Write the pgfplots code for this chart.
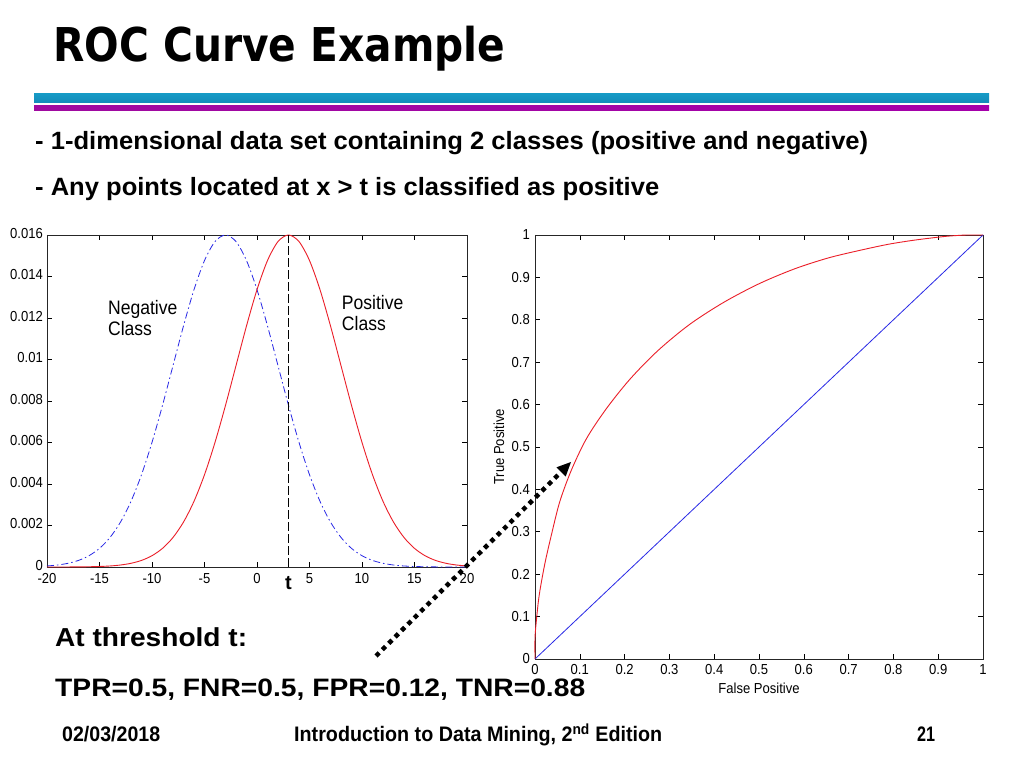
\documentclass[border=0pt]{standalone}
\usepackage{fontspec}
\setmainfont{Liberation Sans}
\newfontfamily\mfont[FakeStretch=0.9]{Liberation Sans}
\newfontfamily\titlefont{DejaVu Sans}
\usepackage{graphicx}
\usepackage{pgfplots}
\usepackage{pgfplotstable}
\pgfplotsset{compat=1.18}

\definecolor{mred}{RGB}{235,30,40}
\definecolor{mblue}{RGB}{40,40,230}
\newcommand\fit[2]{\resizebox{#1}{\height}{#2}}
\newcommand\tickfont{\mfont\fontsize{14.5}{16}\selectfont}

% class densities
\pgfplotstableread{
x   pos      neg
-20 0.000000 0.000049
-19 0.000001 0.000096
-18 0.000002 0.000178
-17 0.000005 0.000317
-16 0.000012 0.000545
-15 0.000025 0.000898
-14 0.000049 0.001423
-13 0.000096 0.002165
-12 0.000178 0.003166
-11 0.000317 0.004448
-10 0.000545 0.006005
-9  0.000898 0.007789
-8  0.001423 0.009704
-7  0.002165 0.011618
-6  0.003166 0.013365
-5  0.004448 0.014770
-4  0.006005 0.015683
-3  0.007789 0.016000
-2  0.009704 0.015683
-1  0.011618 0.014770
0   0.013365 0.013365
1   0.014770 0.011618
2   0.015683 0.009704
3   0.016000 0.007789
4   0.015683 0.006005
5   0.014770 0.004448
6   0.013365 0.003166
7   0.011618 0.002165
8   0.009704 0.001423
9   0.007789 0.000898
10  0.006005 0.000545
11  0.004448 0.000317
12  0.003166 0.000178
13  0.002165 0.000096
14  0.001423 0.000049
15  0.000898 0.000025
16  0.000545 0.000012
17  0.000317 0.000005
18  0.000178 0.000002
19  0.000096 0.000001
20  0.000049 0.000000
}\dens

% ROC curve
\pgfplotstableread{
fpr   tpr
0     0
0     0.05
0.003 0.09
0.008 0.14
0.014 0.18
0.023 0.23
0.036 0.29
0.055 0.37
0.081 0.445
0.115 0.52
0.159 0.59
0.212 0.66
0.274 0.727
0.345 0.789
0.421 0.841
0.5   0.885
0.579 0.92
0.655 0.946
0.726 0.964
0.788 0.978
0.841 0.987
0.885 0.993
0.919 0.997
0.945 0.999
0.964 1.0
1     1
}\roc

\pgfplotsset{
  matlab/.style={
    scale only axis, clip=false,
    axis line style={black!85, line width=0.8pt},
    tick style={black, line width=0.6pt},
    major tick length=5pt,
    scaled ticks=false,
    yticklabel style={font=\tickfont, inner sep=0pt, xshift=-4pt},
  },
}

\begin{document}
\begin{tikzpicture}[x=1pt,y=1pt]
\path[use as bounding box] (0pt,0pt) rectangle (1024pt,768pt);
\fill[white] (0pt,0pt) rectangle (1024pt,768pt);

% title and rules
\node[anchor=base west, inner sep=0pt] at (53pt,706pt)
  {\fit{452pt}{\titlefont\bfseries\fontsize{46.6}{50}\selectfont ROC Curve Example}};
\shade[top color={rgb,255:red,22;green,155;blue,198},
       middle color={rgb,255:red,80;green,210;blue,236},
       bottom color={rgb,255:red,20;green,140;blue,186}]
  (34pt,665.7pt) rectangle (989pt,674.7pt);
\shade[left color={rgb,255:red,160;green,10;blue,160},
       middle color={rgb,255:red,240;green,10;blue,240},
       right color={rgb,255:red,165;green,0;blue,170}]
  (34pt,657pt) rectangle (989pt,662.3pt);

\node[anchor=base west, inner sep=0pt] at (35pt,618pt)
  {\fit{833pt}{\bfseries\fontsize{25}{28}\selectfont - 1-dimensional data set containing 2 classes (positive and negative)}};
\node[anchor=base west, inner sep=0pt] at (35pt,572pt)
  {\fit{624pt}{\bfseries\fontsize{25}{28}\selectfont - Any points located at x > t is classified as positive}};

% left panel: class densities
\begin{axis}[matlab,
  at={(47pt,201pt)}, anchor=south west,
  width=420pt, height=332pt,
  xmin=-20, xmax=20, ymin=0, ymax=0.016,
  xtick={-20,-15,-10,-5,0,5,10,15,20},
  xticklabels={-20,-15,-10,-5,0,5,10,15,20},
  ytick={0,0.002,0.004,0.006,0.008,0.01,0.012,0.014,0.016},
  yticklabels={0,0.002,0.004,0.006,0.008,0.01,0.012,0.014,0.016},
  xticklabel style={font=\tickfont, inner sep=0pt, yshift=-6pt},
  yticklabel style={yshift=1.5pt},
]
\addplot[mblue, line width=0.8pt, dash pattern=on 7pt off 3pt on 1.5pt off 3pt, smooth] table[x=x, y=neg] {\dens};
\addplot[mred, line width=0.9pt, smooth] table[x=x, y=pos] {\dens};
\addplot[black, line width=1pt, dash pattern=on 9pt off 3pt] coordinates {(3,0) (3,0.016)};
\node[anchor=base west, inner sep=0pt, font=\mfont\fontsize{19.5}{22}\selectfont] at (axis cs:-14.2,0.01219) {Negative};
\node[anchor=base west, inner sep=0pt, font=\mfont\fontsize{19.5}{22}\selectfont] at (axis cs:-14.2,0.01118) {Class};
\node[anchor=base west, inner sep=0pt, font=\mfont\fontsize{19.5}{22}\selectfont] at (axis cs:8.07,0.01243) {Positive};
\node[anchor=base west, inner sep=0pt, font=\mfont\fontsize{19.5}{22}\selectfont] at (axis cs:8.07,0.01142) {Class};
\node[anchor=base, inner sep=0pt, yshift=-23pt, font=\bfseries\fontsize{20}{22}\selectfont] at (axis cs:3,0) {t};
\end{axis}

% right panel: ROC curve
\begin{axis}[matlab,
  at={(535pt,109pt)}, anchor=south west,
  width=448pt, height=424pt,
  xmin=0, xmax=1, ymin=0, ymax=1,
  xtick={0,0.1,0.2,0.3,0.4,0.5,0.6,0.7,0.8,0.9,1},
  xticklabels={0,0.1,0.2,0.3,0.4,0.5,0.6,0.7,0.8,0.9,1},
  ytick={0,0.1,0.2,0.3,0.4,0.5,0.6,0.7,0.8,0.9,1},
  yticklabels={0,0.1,0.2,0.3,0.4,0.5,0.6,0.7,0.8,0.9,1},
  xticklabel style={font=\tickfont, inner sep=0pt, yshift=-5.5pt},
  yticklabel style={xshift=-1pt},
  xlabel={False Positive}, ylabel={True Positive},
  xlabel style={at={(axis description cs:0.5,-0.0684)}, anchor=center, inner sep=0pt, font=\mfont\fontsize{14.5}{16}\selectfont},
  ylabel style={at={(axis description cs:-0.0804,0.5)}, anchor=center, inner sep=0pt, font=\mfont\fontsize{14.5}{16}\selectfont},
]
\addplot[mblue, line width=0.8pt] coordinates {(0,0) (1,1)};
\addplot[mred, line width=0.9pt, smooth] table[x=fpr, y=tpr] {\roc};
\end{axis}

% dotted arrow from the threshold to the ROC point
\draw[line width=4.5pt, dash pattern=on 4.5pt off 4.5pt] (376pt,112pt) -- (561pt,296pt);
\fill (571pt,306pt) -- (556.5pt,300.7pt) -- (565.7pt,291.5pt) -- cycle;

% bottom text
\node[anchor=base west, inner sep=0pt] at (55pt,121.3pt)
  {\fit{192pt}{\bfseries\fontsize{26}{29}\selectfont At threshold t:}};
\node[anchor=base west, inner sep=0pt] at (55pt,71.3pt)
  {\fit{530pt}{\bfseries\fontsize{25.2}{29}\selectfont TPR=0.5, FNR=0.5, FPR=0.12, TNR=0.88}};

% footer
\node[anchor=base west, inner sep=0pt] at (62pt,26.3pt)
  {\fit{98pt}{\bfseries\fontsize{21}{24}\selectfont 02/03/2018}};
\node[anchor=base west, inner sep=0pt] at (294pt,26.3pt)
  {\fit{368pt}{\bfseries\fontsize{21}{24}\selectfont Introduction to Data Mining, 2\textsuperscript{nd} Edition}};
\node[anchor=base west, inner sep=0pt] at (917pt,26.3pt)
  {\fit{18pt}{\bfseries\fontsize{21}{24}\selectfont 21}};
\end{tikzpicture}
\end{document}
